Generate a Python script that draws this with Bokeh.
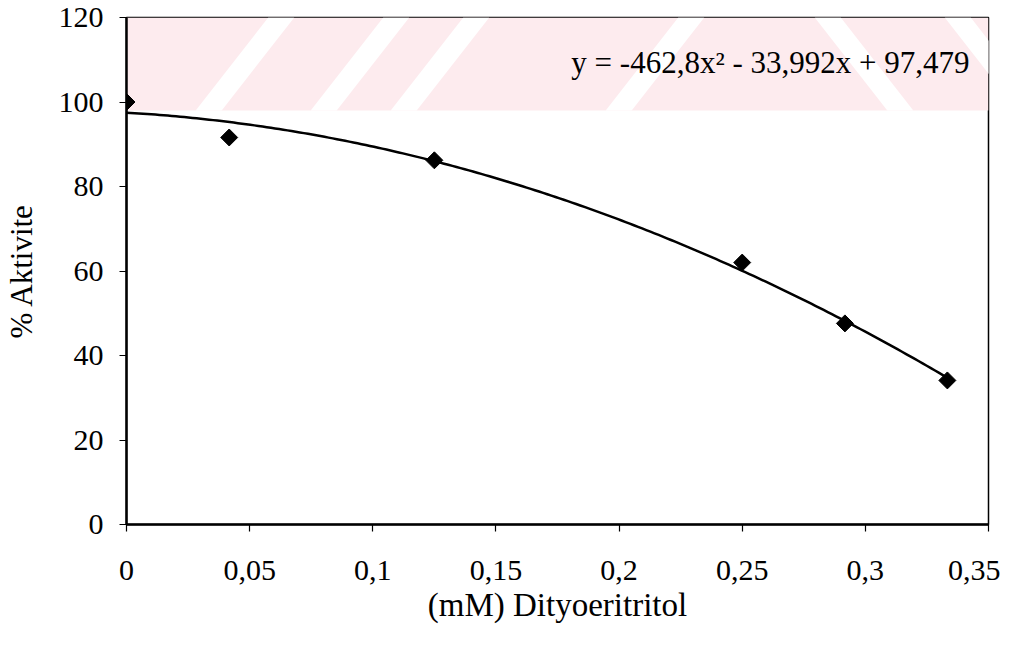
import numpy as np
from bokeh.plotting import figure
from bokeh.models import FixedTicker, Label
from bokeh.embed import file_html
from bokeh.resources import INLINE

# data
dte_mM = [0.0, 0.0417, 0.125, 0.25, 0.2917, 0.3333]
activity_pct = [100.0, 91.6, 86.2, 62.0, 47.6, 34.1]
trend_coeffs = [-462.8, -33.992, 97.479]  # y = a x^2 + b x + c
x_ticks = [0, 0.05, 0.1, 0.15, 0.2, 0.25, 0.3, 0.35]
x_tick_labels = ["0", "0,05", "0,1", "0,15", "0,2", "0,25", "0,3", "0,35"]
y_ticks = [0, 20, 40, 60, 80, 100, 120]
y_tick_labels = ["0", "20", "40", "60", "80", "100", "120"]
eq_text = "y = -462,8x\u00b2 - 33,992x + 97,479"

FONT = "Liberation Serif"
X0, X1 = 0.0, 0.35
Y0, Y1 = 0.0, 120.0

# frame geometry in page pixels (decoration placement only)
FL, FR, FT, FB = 125, 987, 17, 524
def px2x(px):
    return X0 + (px - FL) / (FR - FL) * (X1 - X0)
def py2y(py):
    return Y0 + (FB - py) / (FB - FT) * (Y1 - Y0)

p = figure(width=1000, height=625, output_backend="svg", toolbar_location=None,
           x_range=(X0, X1), y_range=(Y0, Y1),
           min_border_left=117, min_border_right=12,
           min_border_top=17, min_border_bottom=100)
p.background_fill_color = "white"
p.border_fill_color = "white"
p.outline_line_color = "black"
p.outline_line_width = 1.5
p.grid.visible = False

# faint scanned watermark band (decoration)
band_bottom = 110
p.patch([px2x(FL), px2x(FR), px2x(FR), px2x(FL)],
        [py2y(FT), py2y(FT), py2y(band_bottom), py2y(band_bottom)],
        fill_color="#fdebee", line_color=None)
gap_tops_fwd = [280, 395, 475, 690]
gap_tops_back = [800, 930]
gw, slope = 26, 0.78
gxs, gys = [], []
for t in gap_tops_fwd:
    xa, xb = t - slope * FT, t - slope * band_bottom
    gxs.append([px2x(xa), px2x(xa + gw), px2x(xb + gw), px2x(xb)])
    gys.append([py2y(FT), py2y(FT), py2y(band_bottom), py2y(band_bottom)])
for t in gap_tops_back:
    xa, xb = t + slope * FT, t + slope * band_bottom
    gxs.append([px2x(xa), px2x(xa + gw), px2x(xb + gw), px2x(xb)])
    gys.append([py2y(FT), py2y(FT), py2y(band_bottom), py2y(band_bottom)])
p.patches(gxs, gys, fill_color="white", line_color=None)

# trend line
xs = np.linspace(0, max(dte_mM), 200)
ys = np.polyval(trend_coeffs, xs)
p.line(xs, ys, line_color="black", line_width=2.5)

# data points
p.scatter(dte_mM, activity_pct, marker="square", angle=np.pi / 4, size=12,
          fill_color="black", line_color="black")

# axes
p.xaxis.ticker = FixedTicker(ticks=x_ticks)
p.xaxis.major_label_overrides = {t: l for t, l in zip(x_ticks, x_tick_labels)}
p.yaxis.ticker = FixedTicker(ticks=y_ticks)
p.yaxis.major_label_overrides = {t: l for t, l in zip(y_ticks, y_tick_labels)}
for ax in (p.xaxis[0], p.yaxis[0]):
    ax.axis_line_color = "black"
    ax.axis_line_width = 2.5
    ax.major_tick_line_color = "black"
    ax.major_tick_line_width = 1.2
    ax.major_tick_out = 7
    ax.major_tick_in = 0
    ax.minor_tick_line_color = None
    ax.major_label_text_font = FONT
    ax.major_label_text_font_size = "30px"
    ax.major_label_text_color = "black"
    ax.axis_label_text_font = FONT
    ax.axis_label_text_font_style = "normal"
    ax.axis_label_text_color = "black"

p.xaxis.axis_label = "(mM) Dityoeritritol"
p.yaxis.axis_label = "% Aktivite"
p.xaxis.axis_label_text_font_size = "33px"
p.yaxis.axis_label_text_font_size = "31px"
p.xaxis.major_label_standoff = 29
p.xaxis.axis_label_standoff = 4
p.yaxis.major_label_standoff = 16
p.yaxis.axis_label_standoff = 17

eq = Label(x=px2x(968), y=py2y(62), text=eq_text, text_align="right",
           text_baseline="alphabetic", text_font=FONT, text_font_size="31px",
           text_color="black")
p.add_layout(eq)

open("out.html", "w").write(file_html(p, INLINE))
